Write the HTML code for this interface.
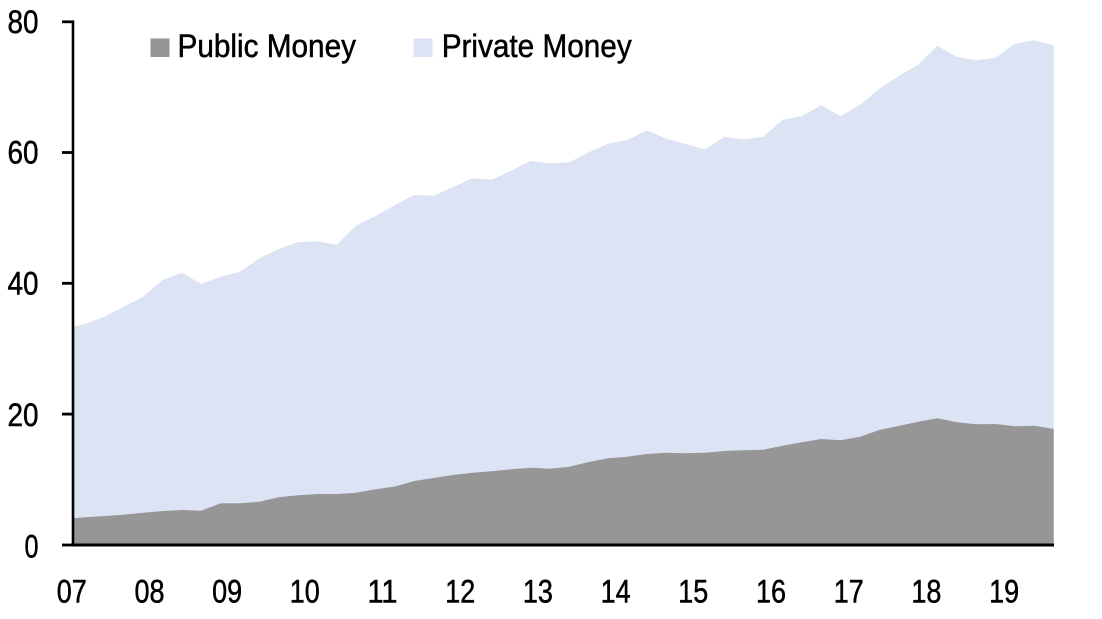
<!DOCTYPE html>
<html>
<head>
<meta charset="utf-8">
<style>
  html, body { margin: 0; padding: 0; background: #ffffff; }
  svg { display: block; }
  text { font-family: "Liberation Sans", Arial, sans-serif; fill: #000; stroke: #000; stroke-width: 0.5px; }
</style>
</head>
<body>
<svg width="1102" height="619" viewBox="0 0 1102 619" xmlns="http://www.w3.org/2000/svg">
  <rect x="0" y="0" width="1102" height="619" fill="#ffffff"/>

  <!-- Private Money area -->
  <polygon fill="#dbe3f4" points="73,326.7 85,324 104.4,316.7 123.7,306.7 143.1,296.7 162.5,280 181.9,272.7 201.2,284 220.6,276.7 240,271.7 259.4,258.3 278.7,249 298.1,242.3 317.5,241.3 336.9,244.7 356.2,225.5 375.6,216 395,205 414.4,195 433.7,195.7 453.1,187 472.5,178.3 491.9,179.7 511.2,170.7 530.6,161 550,163.3 569.4,162.3 588.7,152.3 608.1,143.7 627.5,140 646.9,130.3 666.2,138.7 685.6,144 705,149.3 724.4,137 743.7,139.3 763.1,137 782.5,119.7 801.9,116 821.2,105.3 840.6,116.3 860,104.7 879.4,88.7 898.7,76 918.1,64.7 937.5,45.7 956.9,57 976.2,60.3 995.6,57.7 1015,43.7 1034.4,40.3 1053.7,45.3 1053.7,545 73,545"/>

  <!-- Public Money area -->
  <polygon fill="#969696" points="73,518.3 85,517.3 104.4,516 123.7,514.7 143.1,512.7 162.5,511 181.9,510 201.2,510.7 220.6,503.3 240,503.3 259.4,501.7 278.7,497.3 298.1,495.3 317.5,494 336.9,494 356.2,492.7 375.6,489.3 395,486.5 414.4,481 433.7,478 453.1,475 472.5,472.7 491.9,471.3 511.2,469.3 530.6,467.7 550,468.7 569.4,466.7 588.7,462 608.1,458.3 627.5,456.7 646.9,454 666.2,452.7 685.6,453.3 705,452.7 724.4,451 743.7,450.3 763.1,449.7 782.5,445.7 801.9,442.3 821.2,439 840.6,440.3 860,436.7 879.4,430 898.7,426 918.1,421.7 937.5,418.3 956.9,422.3 976.2,424.3 995.6,424 1015,426.3 1034.4,425.7 1053.7,429 1053.7,545 73,545"/>

  <!-- Axes -->
  <line x1="73" y1="20.5" x2="73" y2="546.5" stroke="#000" stroke-width="2.6"/>
  <line x1="71.7" y1="545" x2="1054" y2="545" stroke="#000" stroke-width="3"/>
  <!-- Y ticks -->
  <g stroke="#000" stroke-width="2.8">
    <line x1="62" y1="21.8" x2="74" y2="21.8"/>
    <line x1="62" y1="152.5" x2="74" y2="152.5"/>
    <line x1="62" y1="283.3" x2="74" y2="283.3"/>
    <line x1="62" y1="414.1" x2="74" y2="414.1"/>
    <line x1="62" y1="545" x2="74" y2="545"/>
  </g>

  <!-- Y labels -->
  <g font-size="32" text-anchor="end">
    <text x="38.5" y="33" textLength="31" lengthAdjust="spacingAndGlyphs">80</text>
    <text x="38.5" y="163.7" textLength="31" lengthAdjust="spacingAndGlyphs">60</text>
    <text x="38.5" y="294.5" textLength="31" lengthAdjust="spacingAndGlyphs">40</text>
    <text x="38.5" y="426" textLength="31" lengthAdjust="spacingAndGlyphs">20</text>
    <text x="38.5" y="557.5" textLength="14" lengthAdjust="spacingAndGlyphs">0</text>
  </g>

  <!-- X labels -->
  <g font-size="32">
    <text x="56.7" y="602.5" textLength="30" lengthAdjust="spacingAndGlyphs">07</text>
    <text x="134.5" y="602.5" textLength="30" lengthAdjust="spacingAndGlyphs">08</text>
    <text x="212.1" y="602.5" textLength="30" lengthAdjust="spacingAndGlyphs">09</text>
    <text x="289.8" y="602.5" textLength="30" lengthAdjust="spacingAndGlyphs">10</text>
    <text x="367.5" y="602.5" textLength="30" lengthAdjust="spacingAndGlyphs">11</text>
    <text x="445.2" y="602.5" textLength="30" lengthAdjust="spacingAndGlyphs">12</text>
    <text x="522.9" y="602.5" textLength="30" lengthAdjust="spacingAndGlyphs">13</text>
    <text x="600.6" y="602.5" textLength="30" lengthAdjust="spacingAndGlyphs">14</text>
    <text x="678.3" y="602.5" textLength="30" lengthAdjust="spacingAndGlyphs">15</text>
    <text x="756.0" y="602.5" textLength="30" lengthAdjust="spacingAndGlyphs">16</text>
    <text x="833.7" y="602.5" textLength="30" lengthAdjust="spacingAndGlyphs">17</text>
    <text x="911.4" y="602.5" textLength="30" lengthAdjust="spacingAndGlyphs">18</text>
    <text x="989.1" y="602.5" textLength="30" lengthAdjust="spacingAndGlyphs">19</text>
  </g>

  <!-- Legend -->
  <rect x="150.5" y="38.5" width="19" height="18.5" fill="#969696"/>
  <text x="177.5" y="57" font-size="32.5" textLength="178.5" lengthAdjust="spacingAndGlyphs">Public Money</text>
  <rect x="413.5" y="38.5" width="19" height="18.5" fill="#dbe3f4"/>
  <text x="441.7" y="57" font-size="32.5" textLength="190" lengthAdjust="spacingAndGlyphs">Private Money</text>
</svg>
</body>
</html>
